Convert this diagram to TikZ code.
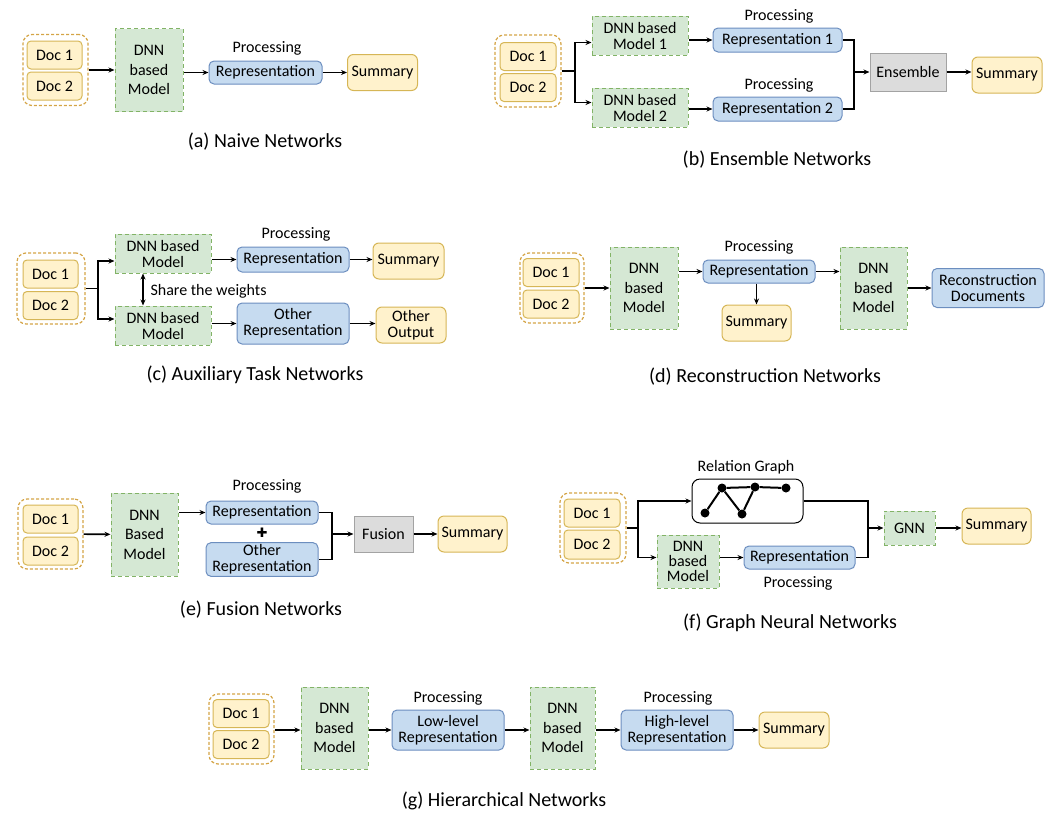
\documentclass[tikz,border=0pt]{standalone}
\usepackage{fontspec}
\setmainfont{Carlito}
\newfontfamily\symfont{DejaVu Sans}
\usetikzlibrary{arrows.meta}

\definecolor{docfill}{HTML}{FFF2CC}
\definecolor{docline}{HTML}{D6B656}
\definecolor{grpline}{HTML}{D4A446}
\definecolor{dnnfill}{HTML}{D5E8D4}
\definecolor{dnnline}{HTML}{82B366}
\definecolor{repfill}{HTML}{C6DBF0}
\definecolor{repline}{HTML}{6C8EBF}
\definecolor{grayfill}{HTML}{DCDCDC}
\definecolor{grayline}{HTML}{A3A3A3}

\begin{document}
\begin{tikzpicture}[x=1pt, y=-1pt, font=\fontsize{16}{16}\selectfont]
  \tikzstyle{plainbox}=[draw, line width=1pt, inner sep=2pt, align=center]
  \tikzstyle{doc}=[plainbox, fill=docfill, draw=docline, rounded corners=4pt, minimum width=56pt, minimum height=28pt]
  \tikzstyle{grp}=[draw=grpline, line width=1.2pt, dash pattern=on 3pt off 2pt, rounded corners=9pt]
  \tikzstyle{dnn}=[plainbox, fill=dnnfill, draw=dnnline, dash pattern=on 4pt off 3pt]
  \tikzstyle{tall}=[font=\fontsize{16}{19.5}\selectfont]
  \tikzstyle{rep}=[plainbox, fill=repfill, draw=repline, rounded corners=5pt]
  \tikzstyle{outbox}=[plainbox, fill=docfill, draw=docline, rounded corners=6pt, minimum width=70pt, minimum height=36pt]
  \tikzstyle{mergebox}=[plainbox, fill=grayfill, draw=grayline, minimum height=37pt]
  \tikzstyle{captext}=[font=\fontsize{20}{24}\selectfont]
  \tikzstyle{wire}=[line width=1.6pt]
  \tikzstyle{arr}=[wire, -{Stealth[length=6pt,width=5pt]}]
  \tikzstyle{twoway}=[wire, {Stealth[length=6pt,width=5pt]}-{Stealth[length=6pt,width=5pt]}]
  \tikzstyle{graphdot}=[circle, fill=black, inner sep=0pt, minimum size=9pt]

    \useasboundingbox (0,0) rectangle (1057,819);

    \node[grp, minimum width=65pt, minimum height=71pt] (grpA) at (55.5,70) {};
    \node[doc, minimum width=55pt] (docA1) at (54.5,55) {Doc 1};
    \node[doc, minimum width=55pt] (docA2) at (54.5,86) {Doc 2};
    \node[dnn, tall, minimum width=68pt, minimum height=83pt] (dnnA) at (149,70) {DNN\\based\\Model};
    \node[rep, minimum width=113pt, minimum height=23pt] (repA) at (265.5,72.5) {Representation};
    \node[outbox] (sumA) at (382.5,72.5) {Summary};
    \node (procA) at (267,48) {Processing};
    \node[captext] (capA) at (265,142) {(a) Naive Networks};
    \draw[arr] (grpA) -- (dnnA);
    \draw[arr] (dnnA.east |- repA) -- (repA);
    \draw[arr] (repA) -- (sumA);

    \node[grp, minimum width=66pt, minimum height=72pt] (grpB) at (528,71) {};
    \node[doc] (docB1) at (528,56.5) {Doc 1};
    \node[doc] (docB2) at (528,87.5) {Doc 2};
    \node[dnn, minimum width=96pt, minimum height=39pt] (dnnB1) at (640,35.5) {DNN based\\Model 1};
    \node[dnn, minimum width=96pt, minimum height=39pt] (dnnB2) at (640,107.5) {DNN based\\Model 2};
    \node[rep, minimum width=129pt, minimum height=24pt] (repB1) at (777.5,40) {Representation 1};
    \node[rep, minimum width=129pt, minimum height=24pt] (repB2) at (777.5,109) {Representation 2};
    \node[mergebox, minimum width=76pt, minimum height=38pt] (ensB) at (908,72) {Ensemble};
    \node[outbox] (sumB) at (1007,75) {Summary};
    \node (procB1) at (779,16) {Processing};
    \node (procB2) at (779,85) {Processing};
    \node[captext] (capB) at (777,160) {(b) Ensemble Networks};
    \coordinate (splitB) at (575,71);
    \coordinate (joinB) at (854,72);
    \draw[wire] (grpB) -- (splitB);
    \draw[arr] (splitB) |- ([yshift=-7pt]dnnB1.west);
    \draw[arr] (splitB) |- ([yshift=5pt]dnnB2.west);
    \draw[arr] (dnnB1.east |- repB1) -- (repB1);
    \draw[arr] (dnnB2.east |- repB2) -- (repB2);
    \draw[wire] (repB1) -| (joinB) |- (repB2);
    \draw[arr] (joinB) -- (ensB);
    \draw[arr] (ensB) -- (sumB.west |- ensB);

    \node[grp, minimum width=68pt, minimum height=71pt] (grpC) at (51,288.5) {};
    \node[doc, minimum width=55pt] (docC1) at (50.5,274) {Doc 1};
    \node[doc, minimum width=55pt] (docC2) at (50.5,305.5) {Doc 2};
    \node[dnn, minimum width=96pt, minimum height=39pt] (dnnC1) at (163,253.5) {DNN based\\Model};
    \node[dnn, minimum width=96pt, minimum height=39pt] (dnnC2) at (163,325.5) {DNN based\\Model};
    \node[rep, minimum width=112pt, minimum height=25pt] (repC1) at (293,259.5) {Representation};
    \node[rep, minimum width=112pt, minimum height=41pt] (repC2) at (293,323.5) {Other\\Representation};
    \node[outbox, minimum width=71pt] (sumC) at (408.5,261) {Summary};
    \node[outbox] (outC) at (411,325) {Other\\Output};
    \node (procC) at (296,234) {Processing};
    \node[anchor=west] (shareC) at (147,291) {Share the weights};
    \node[captext] (capC) at (255,375) {(c) Auxiliary Task Networks};
    \coordinate (splitC) at (98,288.5);
    \draw[wire] (grpC) -- (splitC);
    \draw[arr] (splitC) |- ([yshift=-7.5pt]dnnC1.west);
    \draw[arr] (splitC) |- ([yshift=6.5pt]dnnC2.west);
    \draw[arr] (dnnC1.east |- repC1) -- (repC1);
    \draw[arr] (dnnC2.east |- repC2) -- (repC2);
    \draw[arr] (repC1) -- (sumC.west |- repC1);
    \draw[arr] (repC2) -- (outC.west |- repC2);
    \draw[twoway] ([xshift=-20pt]dnnC1.south) -- ([xshift=-20pt]dnnC2.north);

    \node[grp, minimum width=64pt, minimum height=70pt] (grpD) at (552,288) {};
    \node[doc] (docD1) at (551,272.5) {Doc 1};
    \node[doc] (docD2) at (551,304) {Doc 2};
    \node[dnn, tall, minimum width=68pt, minimum height=82pt] (dnnD1) at (644,288) {DNN\\based\\Model};
    \node[rep, minimum width=112pt, minimum height=23pt] (repD) at (759,271.5) {Representation};
    \node[outbox, minimum width=69pt] (sumD) at (756.5,323) {Summary};
    \node[dnn, tall, minimum width=67pt, minimum height=82pt] (dnnD2) at (873.5,288) {DNN\\based\\Model};
    \node[rep, minimum width=112pt, minimum height=39pt] (recD) at (988,288) {Reconstruction\\Documents};
    \node (procD) at (759,247) {Processing};
    \node[captext] (capD) at (765,377) {(d) Reconstruction Networks};
    \draw[arr] (grpD) -- (dnnD1);
    \draw[arr] (dnnD1.east |- repD) -- (repD);
    \draw[arr] (repD) -- (dnnD2.west |- repD);
    \draw[arr] (repD.south -| sumD) -- (sumD);
    \draw[arr] (dnnD2) -- (recD);

    \node[grp, minimum width=65pt, minimum height=70pt] (grpE) at (50.5,534) {};
    \node[doc, minimum width=55pt] (docE1) at (50.5,519) {Doc 1};
    \node[doc, minimum width=55pt] (docE2) at (50.5,551) {Doc 2};
    \node[dnn, tall, minimum width=67pt, minimum height=83pt] (dnnE) at (144.5,534.5) {DNN\\Based\\Model};
    \node[rep, minimum width=112pt, minimum height=23pt] (repE1) at (262,512.5) {Representation};
    \node[rep, minimum width=112pt, minimum height=33pt] (repE2) at (262,559.5) {Other\\Representation};
    \node[font=\symfont\fontsize{13}{13}\selectfont] (plusE) at (262,533) {✚};
    \node[mergebox, minimum width=59pt, minimum height=36pt] (fusE) at (383.5,534) {Fusion};
    \node[outbox, minimum width=69pt] (sumE) at (472.5,534) {Summary};
    \node (procE) at (267,486) {Processing};
    \node[captext] (capE) at (261,610) {(e) Fusion Networks};
    \coordinate (joinE) at (332,534);
    \draw[arr] (grpE) -- (dnnE);
    \draw[arr] (dnnE.east |- repE1) -- (repE1);
    \draw[wire] (repE1) -| (joinE) |- (repE2);
    \draw[arr] (joinE) -- (fusE);
    \draw[arr] (fusE) -- (sumE);

    \node[grp, minimum width=66pt, minimum height=70pt] (grpF) at (593,528) {};
    \node[doc] (docF1) at (592,513) {Doc 1};
    \node[doc, minimum height=29pt] (docF2) at (592,544.5) {Doc 2};
    \node[draw, line width=1pt, fill=white, rounded corners=8pt, minimum width=111pt, minimum height=44pt] (graphF) at (747.5,501) {};
    \node[graphdot] (g1) at (705,513) {};
    \node[graphdot] (g2) at (722,488) {};
    \node[graphdot] (g3) at (742,514) {};
    \node[graphdot] (g4) at (755,487) {};
    \node[graphdot] (g5) at (786,488) {};
    \draw[line width=2pt] (g1) -- (g2) -- (g3) -- (g4) -- (g5);
    \draw[line width=2pt] (g2) -- (g4);
    \node (labF) at (746,467) {Relation Graph};
    \node[dnn, font=\fontsize{16}{15}\selectfont, minimum width=62pt, minimum height=53pt] (dnnF) at (688,561.5) {DNN\\based\\Model};
    \node[rep, minimum width=111pt, minimum height=23pt] (repF) at (799.5,557.5) {Representation};
    \node (procF) at (798,583) {Processing};
    \node[dnn, minimum width=51pt, minimum height=34pt] (gnnF) at (909.5,528) {GNN};
    \node[outbox, minimum width=69pt] (sumF) at (996.5,526) {Summary};
    \node[captext] (capF) at (790,623) {(f) Graph Neural Networks};
    \coordinate (splitF) at (638,528);
    \coordinate (joinF) at (868,528);
    \draw[wire] (grpF) -- (splitF);
    \draw[arr] (splitF) |- (graphF);
    \draw[arr] (splitF) |- (dnnF.west |- repF);
    \draw[arr] (dnnF.east |- repF) -- (repF);
    \draw[wire] (graphF) -| (joinF) |- (repF);
    \draw[arr] (joinF) -- (gnnF);
    \draw[arr] (gnnF) -- (sumF.west |- gnnF);

    \node[grp, minimum width=65pt, minimum height=70pt] (grpG) at (241.5,729) {};
    \node[doc] (docG1) at (241,713.5) {Doc 1};
    \node[doc] (docG2) at (241,744.5) {Doc 2};
    \node[dnn, tall, minimum width=67pt, minimum height=82pt] (dnnG1) at (334.5,728) {DNN\\based\\Model};
    \node[rep, minimum width=112pt, minimum height=40pt] (lowG) at (448,730) {Low-level\\Representation};
    \node[dnn, tall, minimum width=65pt, minimum height=82pt] (dnnG2) at (562.5,728) {DNN\\based\\Model};
    \node[rep, minimum width=112pt, minimum height=40pt] (highG) at (677,730) {High-level\\Representation};
    \node[outbox] (sumG) at (794,730) {Summary};
    \node (procG1) at (448,698) {Processing};
    \node (procG2) at (678,698) {Processing};
    \node[captext] (capG) at (504,801) {(g) Hierarchical Networks};
    \draw[arr] (grpG.east |- lowG) -- (dnnG1.west |- lowG);
    \draw[arr] (dnnG1.east |- lowG) -- (lowG);
    \draw[arr] (lowG) -- (dnnG2.west |- lowG);
    \draw[arr] (dnnG2.east |- highG) -- (highG);
    \draw[arr] (highG) -- (sumG);

\end{tikzpicture}
\end{document}
